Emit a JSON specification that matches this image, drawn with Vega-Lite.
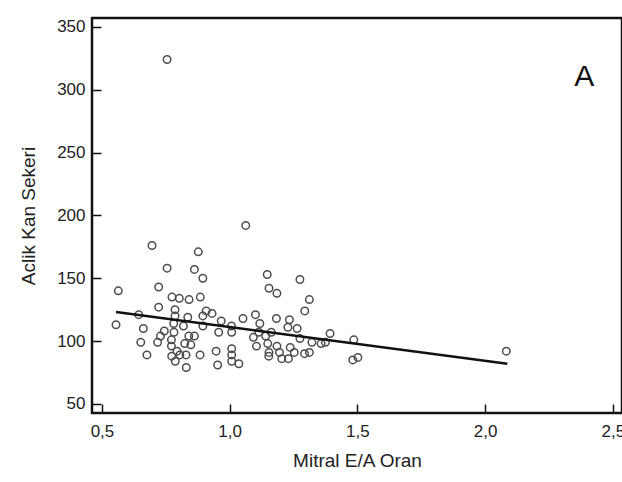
{
  "$schema": "https://vega.github.io/schema/vega-lite/v6.json",
  "width": 530,
  "height": 395,
  "autosize": {"type": "pad"},
  "padding": {"left": 19, "top": 17, "right": 0, "bottom": 0},
  "background": "white",
  "datasets": {
    "pts": [
      {"x": 0.755, "y": 324}, {"x": 1.063, "y": 192},
      {"x": 0.696, "y": 176}, {"x": 0.877, "y": 171}, {"x": 0.755, "y": 158}, {"x": 0.862, "y": 157},
      {"x": 0.895, "y": 150}, {"x": 0.564, "y": 140}, {"x": 0.722, "y": 143}, {"x": 0.774, "y": 135},
      {"x": 0.803, "y": 134}, {"x": 0.841, "y": 133}, {"x": 0.885, "y": 135}, {"x": 0.722, "y": 127},
      {"x": 0.786, "y": 125}, {"x": 0.908, "y": 124}, {"x": 0.931, "y": 122}, {"x": 0.644, "y": 121},
      {"x": 0.786, "y": 120}, {"x": 0.836, "y": 119}, {"x": 0.895, "y": 120}, {"x": 0.555, "y": 113},
      {"x": 0.662, "y": 110}, {"x": 0.781, "y": 114}, {"x": 0.819, "y": 112}, {"x": 0.744, "y": 108},
      {"x": 0.782, "y": 107}, {"x": 0.895, "y": 112}, {"x": 0.729, "y": 104}, {"x": 0.840, "y": 104},
      {"x": 0.862, "y": 104}, {"x": 0.652, "y": 99}, {"x": 0.718, "y": 99}, {"x": 0.772, "y": 101},
      {"x": 0.824, "y": 98}, {"x": 0.848, "y": 97}, {"x": 0.772, "y": 96}, {"x": 0.794, "y": 92},
      {"x": 0.676, "y": 89}, {"x": 0.773, "y": 88}, {"x": 0.805, "y": 89}, {"x": 0.829, "y": 89},
      {"x": 0.884, "y": 89}, {"x": 0.787, "y": 84}, {"x": 0.830, "y": 79},
      {"x": 1.147, "y": 153}, {"x": 1.275, "y": 149}, {"x": 1.154, "y": 142}, {"x": 1.185, "y": 138},
      {"x": 1.312, "y": 133}, {"x": 1.294, "y": 124}, {"x": 1.101, "y": 121}, {"x": 1.052, "y": 118},
      {"x": 1.183, "y": 118}, {"x": 0.967, "y": 116}, {"x": 1.118, "y": 114}, {"x": 1.234, "y": 117},
      {"x": 1.228, "y": 111}, {"x": 1.264, "y": 110}, {"x": 1.007, "y": 112}, {"x": 0.957, "y": 107},
      {"x": 1.008, "y": 107}, {"x": 1.114, "y": 107}, {"x": 1.163, "y": 107}, {"x": 1.393, "y": 106},
      {"x": 1.093, "y": 103}, {"x": 1.141, "y": 104}, {"x": 1.275, "y": 102}, {"x": 1.322, "y": 99},
      {"x": 1.358, "y": 98}, {"x": 1.375, "y": 99}, {"x": 1.105, "y": 96}, {"x": 1.149, "y": 98},
      {"x": 1.185, "y": 96}, {"x": 1.237, "y": 95}, {"x": 0.947, "y": 92}, {"x": 1.008, "y": 94},
      {"x": 1.008, "y": 89}, {"x": 1.154, "y": 91}, {"x": 1.195, "y": 91}, {"x": 1.253, "y": 91},
      {"x": 1.008, "y": 84}, {"x": 1.036, "y": 82}, {"x": 0.953, "y": 81}, {"x": 1.153, "y": 88},
      {"x": 1.204, "y": 86}, {"x": 1.230, "y": 86}, {"x": 1.293, "y": 90}, {"x": 1.312, "y": 91},
      {"x": 1.486, "y": 101}, {"x": 1.482, "y": 85}, {"x": 1.502, "y": 87},
      {"x": 2.083, "y": 92}
    ],
    "fit": [
      {"x": 0.555, "y": 123.2},
      {"x": 2.087, "y": 82.0}
    ],
    "lbl": [
      {"label": "A", "x": 2.388, "y": 303}
    ]
  },
  "config": {
    "font": "Liberation Sans",
    "view": {"stroke": "#111111", "strokeWidth": 2.5},
    "axis": {
      "grid": false,
      "domain": false,
      "tickColor": "#111111",
      "tickWidth": 1.5,
      "tickSize": -9,
      "labelColor": "#222222",
      "labelFontSize": 17,
      "labelFlush": false,
      "labelOverlap": false,
      "titleFontSize": 19,
      "titleFontWeight": "normal",
      "titleColor": "#222222"
    }
  },
  "layer": [
    {
      "data": {"name": "pts"},
      "mark": {"type": "point", "shape": "circle", "filled": false, "stroke": "#4d4d4d", "strokeWidth": 1.5, "size": 56, "opacity": 1},
      "encoding": {
        "x": {
          "field": "x", "type": "quantitative",
          "scale": {"domain": [0.461, 2.536], "nice": false, "zero": false},
          "axis": {
            "values": [0.5, 1, 1.5, 2, 2.5],
            "labelExpr": "replace(format(datum.value, '.1f'), '.', ',')",
            "title": "Mitral E/A Oran",
            "labelPadding": 19,
            "titlePadding": 12
          }
        },
        "y": {
          "field": "y", "type": "quantitative",
          "scale": {"domain": [42.8, 357], "nice": false, "zero": false},
          "axis": {
            "values": [50, 100, 150, 200, 250, 300, 350],
            "title": "Aclik Kan Sekeri",
            "labelPadding": 16,
            "titlePadding": 18
          }
        }
      }
    },
    {
      "data": {"name": "fit"},
      "mark": {"type": "line", "color": "#111111", "strokeWidth": 2.5},
      "encoding": {
        "x": {"field": "x", "type": "quantitative"},
        "y": {"field": "y", "type": "quantitative"}
      }
    },
    {
      "data": {"name": "lbl"},
      "mark": {"type": "text", "fontSize": 30, "align": "center", "baseline": "alphabetic", "color": "#111111"},
      "encoding": {
        "x": {"field": "x", "type": "quantitative"},
        "y": {"field": "y", "type": "quantitative"},
        "text": {"field": "label"}
      }
    }
  ]
}
